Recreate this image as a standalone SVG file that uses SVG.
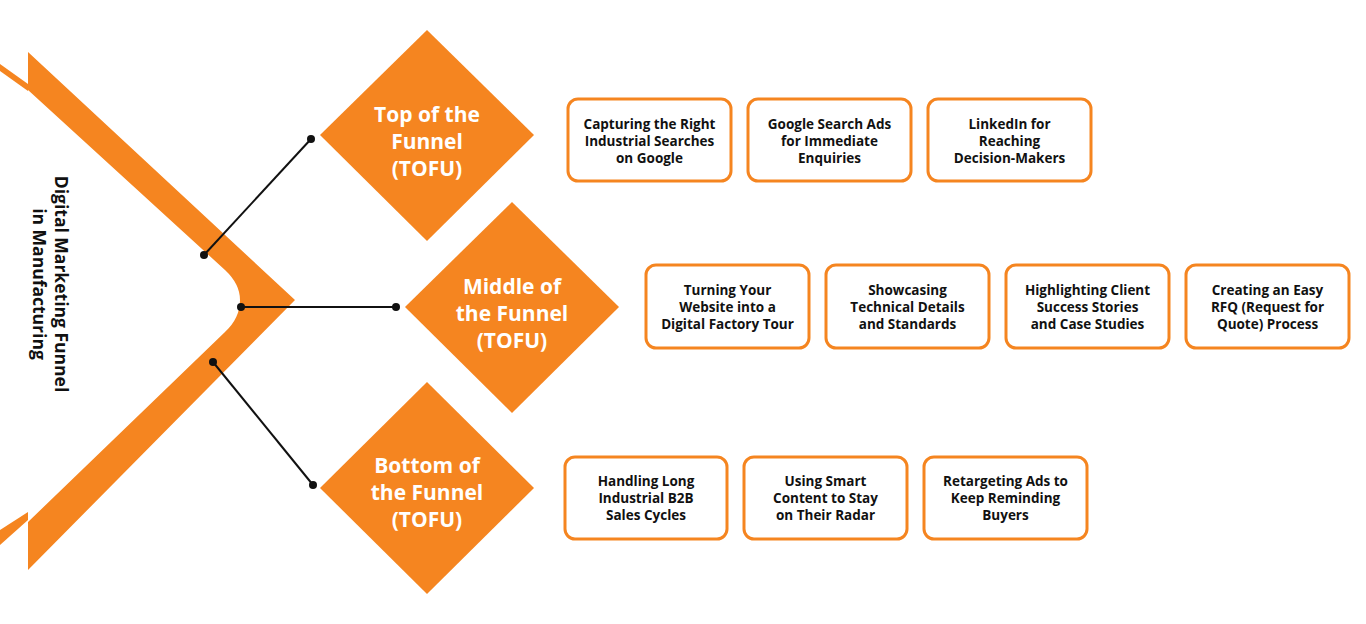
<svg xmlns="http://www.w3.org/2000/svg" width="1366" height="624" viewBox="0 0 1366 624">
<style>
.o{fill:#f58520}
.d{fill:#f58520}
.dt{fill:#fff;font-family:"Open Sans",sans-serif;font-weight:700;font-size:21px;text-anchor:middle}
.b rect{fill:#fff;stroke:#f58520;stroke-width:3}
.b text{fill:#111;font-family:"Open Sans",sans-serif;font-weight:700;font-size:13.5px;text-anchor:middle}
.c line{stroke:#111;stroke-width:2}
.c circle{fill:#111}
</style>
<rect width="1366" height="624" fill="#fff"/>
<g id="band">
<path class="o" d="M28,52 L295,300 L28,570 L28,522 L225,332 Q240,318 240,300 Q240,284 225,270 L28,90 Z"/>
<path class="o" d="M0,64 L28,84 L28,91 L0,71 Z"/>
<path class="o" d="M0,530 L28,512 L28,520 L0,545 Z"/>
</g>
<g id="title"><text transform="translate(48,284) rotate(90)" font-family="Open Sans,sans-serif" font-weight="700" font-size="17.5" text-anchor="middle" fill="#111"><tspan x="0" y="-7">Digital Marketing Funnel</tspan><tspan x="0" y="15">in Manufacturing</tspan></text></g>
<g class="c" id="connectors">
<line x1="204" y1="255" x2="311" y2="139"/><circle cx="204" cy="255" r="4"/><circle cx="311" cy="139" r="4"/>
<line x1="241" y1="307" x2="396" y2="307"/><circle cx="241" cy="307" r="4"/><circle cx="396" cy="307" r="4"/>
<line x1="213" y1="362" x2="313" y2="485"/><circle cx="213" cy="362" r="4"/><circle cx="313" cy="485" r="4"/>
</g>
<g id="tofu"><path class="d" d="M427,30 L534,135 L427,241 L320,135 Z"/><text class="dt" x="427" y="122">Top of the</text><text class="dt" x="427" y="149">Funnel</text><text class="dt" x="427" y="176">(TOFU)</text></g>
<g id="mofu"><path class="d" d="M512,202 L619,307 L512,413 L405,307 Z"/><text class="dt" x="512" y="294">Middle of</text><text class="dt" x="512" y="321">the Funnel</text><text class="dt" x="512" y="348">(TOFU)</text></g>
<g id="bofu"><path class="d" d="M427,382 L534,488 L427,594 L320,488 Z"/><text class="dt" x="427" y="473">Bottom of</text><text class="dt" x="427" y="500">the Funnel</text><text class="dt" x="427" y="527">(TOFU)</text></g>
<g class="b" id="t1"><rect x="568" y="99" width="163" height="82" rx="10"/><text x="649.5" y="129">Capturing the Right</text><text x="649.5" y="146">Industrial Searches</text><text x="649.5" y="163">on Google</text></g>
<g class="b" id="t2"><rect x="748" y="99" width="163" height="82" rx="10"/><text x="829.5" y="129">Google Search Ads</text><text x="829.5" y="146">for Immediate</text><text x="829.5" y="163">Enquiries</text></g>
<g class="b" id="t3"><rect x="928" y="99" width="163" height="82" rx="10"/><text x="1009.5" y="129">LinkedIn for</text><text x="1009.5" y="146">Reaching</text><text x="1009.5" y="163">Decision-Makers</text></g>
<g class="b" id="m1"><rect x="646" y="265" width="163" height="83" rx="10"/><text x="727.5" y="295">Turning Your</text><text x="727.5" y="312">Website into a</text><text x="727.5" y="329">Digital Factory Tour</text></g>
<g class="b" id="m2"><rect x="826" y="265" width="163" height="83" rx="10"/><text x="907.5" y="295">Showcasing</text><text x="907.5" y="312">Technical Details</text><text x="907.5" y="329">and Standards</text></g>
<g class="b" id="m3"><rect x="1006" y="265" width="163" height="83" rx="10"/><text x="1087.5" y="295">Highlighting Client</text><text x="1087.5" y="312">Success Stories</text><text x="1087.5" y="329">and Case Studies</text></g>
<g class="b" id="m4"><rect x="1186" y="265" width="163" height="83" rx="10"/><text x="1267.5" y="295">Creating an Easy</text><text x="1267.5" y="312">RFQ (Request for</text><text x="1267.5" y="329">Quote) Process</text></g>
<g class="b" id="b1"><rect x="565" y="457" width="162" height="82" rx="10"/><text x="646" y="486">Handling Long</text><text x="646" y="503">Industrial B2B</text><text x="646" y="520">Sales Cycles</text></g>
<g class="b" id="b2"><rect x="744" y="457" width="163" height="82" rx="10"/><text x="825.5" y="486">Using Smart</text><text x="825.5" y="503">Content to Stay</text><text x="825.5" y="520">on Their Radar</text></g>
<g class="b" id="b3"><rect x="924" y="457" width="163" height="82" rx="10"/><text x="1005.5" y="486">Retargeting Ads to</text><text x="1005.5" y="503">Keep Reminding</text><text x="1005.5" y="520">Buyers</text></g>
</svg>
